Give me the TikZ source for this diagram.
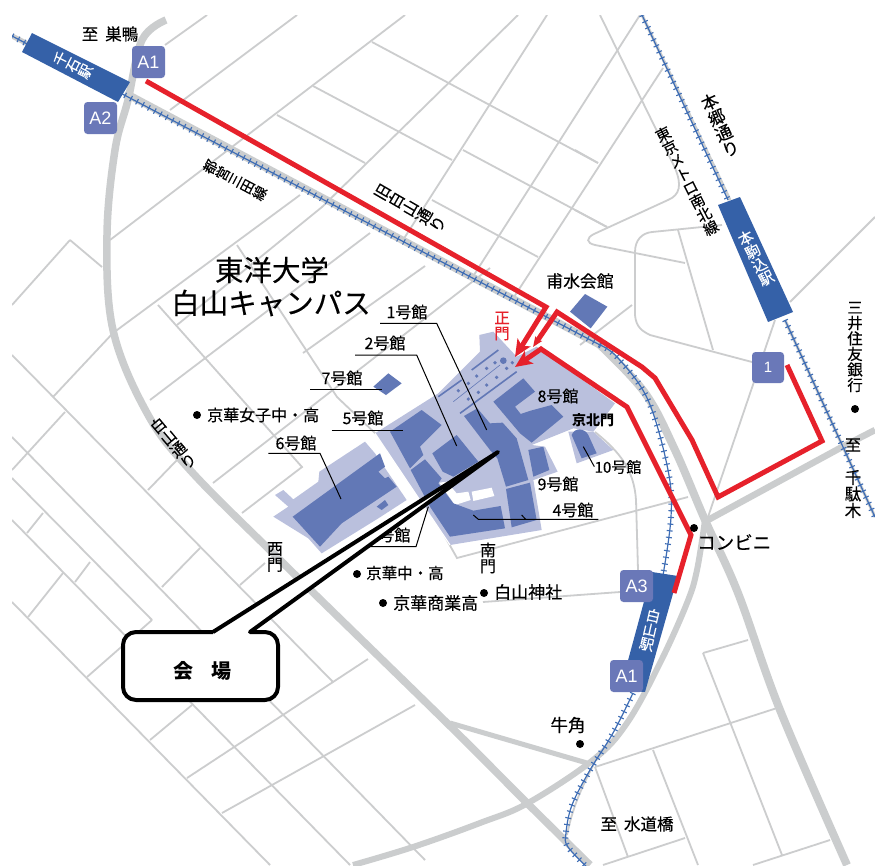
\documentclass[tikz,border=0pt]{standalone}
\usepackage{fontspec}
\setmainfont{Noto Sans CJK JP}
\newfontfamily\heavyf[FakeBold=0.25]{Noto Sans CJK JP}
\newfontfamily\latinf{Liberation Sans}
\usetikzlibrary{arrows.meta}
\definecolor{roadc}{HTML}{CBCDCE}
\definecolor{thinc}{HTML}{CCCDCE}
\definecolor{stationc}{HTML}{3561A8}
\definecolor{badgec}{HTML}{6A78B8}
\definecolor{bldgc}{HTML}{6278B6}
\definecolor{lotc}{HTML}{BAC0DD}
\definecolor{routec}{HTML}{E6212B}
\definecolor{railc}{HTML}{3E6DB5}
\tikzset{
  thinroad/.style={draw=thinc,line width=1.8pt},
  mainroad/.style={draw=roadc,line width=#1},
  railbase/.style={draw=railc,line width=1.2pt},
  railtick/.style={draw=railc,line width=6pt,dash pattern=on 1.1pt off 5.6pt},
  routeline/.style={draw=routec,line width=5pt,line join=miter},
  lot/.style={fill=lotc},
  bldg/.style={fill=bldgc},
  leader/.style={draw=black,line width=1pt},
  fs/.style={font=\heavyf\fontsize{#1}{#1}\selectfont,inner sep=0pt,align=center},
  badge/.style={fill=badgec,rounded corners=3.5pt},
  badgetext/.style={text=white,inner sep=0pt,font=\latinf\fontsize{18}{18}\selectfont},
  dotm/.style={fill=black},
}
\lineskiplimit=-20pt
\lineskip=0pt
\begin{document}
\begin{tikzpicture}[x=1pt,y=-1pt]
\useasboundingbox (0,0) rectangle (875,865);
\fill[white] (0,0) rectangle (875,865);
\begin{scope}
\clip (12,15) rectangle (875,865);
% thin roads: NE block
\draw[thinroad] (207,15)--(165,45);
\draw[thinroad] (297,15)--(170,110);
\draw[thinroad] (405,15)--(110,240);
\draw[thinroad] (518,15)--(322,207)--(177,325);
\draw[thinroad] (547,15)--(403,240);
\draw[thinroad] (640,15)--(472,278);
\draw[thinroad] (663,68)--(512,300);
\draw[thinroad] (600,15)--(675,168) .. controls (682,185) and (680,195) .. (668,200)--(594,234) .. controls (586,238) and (586,243) .. (595,245)--(685,263);
\draw[thinroad] (722,225)--(652,232) .. controls (642,233) and (635,240) .. (635,252)--(635,315) .. controls (636,327) and (642,331) .. (650,335)--(752,362);
\draw[thinroad] (678,230)--(713,350);
\draw[thinroad] (575,150)--(598,163);
\draw[thinroad] (575,210)--(607,227);
\draw[thinroad] (775,320)--(708,517);
\draw[thinroad] (875,217)--(790,302);
\draw[thinroad] (632,305)--(580,345);
\draw[thinroad] (372,42)--(598,163);
\draw[thinroad] (313,86)--(452,160);
\draw[thinroad] (277,115)--(365,163);
\draw[thinroad] (463,150)--(607,227);
\draw[thinroad] (432,200)--(538,257);
% below the rail
\draw[thinroad] (300,195)--(113,333)--(53,397);
\draw[thinroad] (150,400)--(370,233);
\draw[thinroad] (303,353)--(425,266);
\draw[thinroad] (490,268)--(213,483);
\draw[thinroad] (158,305)--(302,467)--(242,513);
\draw[thinroad] (237,245)--(337,397)--(377,435);
\draw[thinroad] (70,240)--(12,305);
\draw[thinroad] (70,240)--(102,267);
% campus surroundings
\draw[thinroad] (430,510)--(457,558)--(688,497);
\draw[thinroad] (595,432) .. controls (620,452) and (634,470) .. (636,500)--(638,570);
\draw[thinroad] (483,602)--(620,592);
% left block
\draw[thinroad] (12,355)--(333,682);
\draw[thinroad] (12,437)--(425,860);
\draw[thinroad] (12,478)--(152,620);
\draw[thinroad] (12,520)--(350,865);
\draw[thinroad] (12,602)--(270,865);
\draw[thinroad] (65,412)--(12,470);
\draw[thinroad] (43,513)--(27,533);
\draw[thinroad] (90,562)--(75,582);
\draw[thinroad] (63,573)--(28,617);
\draw[thinroad] (152,620)--(87,677);
\draw[thinroad] (200,548)--(162,587);
\draw[thinroad] (177,460)--(148,490);
\draw[thinroad] (265,563)--(240,585);
\draw[thinroad] (192,705)--(150,740);
\draw[thinroad] (368,659)--(187,778);
\draw[thinroad] (415,705)--(222,813);
% lower right block
\draw[thinroad] (703,653)--(748,640);
\draw[thinroad] (703,653)--(782,855);
\draw[thinroad] (595,767)--(777,708);
\draw[thinroad] (595,767)--(628,857);
\draw[thinroad] (653,750)--(698,865);
\draw[thinroad] (603,865)--(685,838);
\draw[thinroad] (753,865)--(830,840);
\draw[thinroad] (595,762) .. controls (580,790) and (572,810) .. (567,835);
% main roads
\draw[mainroad=7.5pt] plot[smooth,tension=.6] coordinates {(166,20) (142,40) (128,100) (115,150) (107,235) (113,330) (147,413) (190,470) (283,563) (447,723) (527,803) (590,865)};
\draw[mainroad=7.5pt] (125,93)--(600,345);
\draw[mainroad=8pt] plot[smooth,tension=.6] coordinates {(600,345) (645,393) (675,450) (705,520) (738,593) (780,710) (847,865)};
\draw[mainroad=6.5pt] (708,520)--(842,447)--(875,430);
\draw[mainroad=6pt] plot[smooth,tension=.6] coordinates {(705,520) (697,570) (687,603) (660,663) (627,723) (593,760) (528,803) (480,823) (413,847) (353,865)};
\draw[mainroad=5pt] (450,723)--(587,763);
\draw[mainroad=5pt] (12,36)--(32,46);
% rails
\draw[mainroad=3pt] (642,15)--(730,200);
\draw[mainroad=3pt] (785,320)--(875,517);
\foreach \st in {railbase,railtick}{
  \draw[\st] (12,36)--(600,345);
  \draw[\st] plot[smooth,tension=.6] coordinates {(600,345) (618,358) (648,400) (668,470) (671,517) (663,575)};
  \draw[\st] plot[smooth,tension=.6] coordinates {(633,693) (613,733) (590,770) (572,805) (566,833) (568,847) (590,870)};
  \draw[\st] (642,15)--(728,200);
  \draw[\st] (785,320)--(875,517);
}
\end{scope}
% campus
\begin{scope}[shift={(260,290)},scale=1/3]
\fill[lot] (345,430)--(535,310)--(660,185)--(658,135)--(700,125)--(770,200)--(830,170)--(1065,340)--(1000,425)--(940,415)--(815,465)--(855,470)--(893,545)--(820,570)--(845,720)--(570,765)--cycle;
\fill[lot] (45,615)--(70,600)--(100,628)--(175,575)--(178,545)--(315,455)--(345,490)--(440,630)--(355,685)--(185,790)--(145,745)--(40,680)--(85,650)--cycle;
\fill[lot] (925,425)--(1000,425)--(1060,480)--(950,520)--cycle;
\draw[white,line width=1.2pt] (345,430)--(570,765);
\fill[white] (538,578)--(560,575)--(590,610)--(625,605)--(632,630)--(585,645)--cycle;
\fill[white] (635,605)--(695,593)--(703,618)--(640,633)--cycle;
\fill[bldg] (390,425)--(485,360)--(545,405)--(480,470)--(490,495)--(450,535)--cycle;
\fill[bldg] (517,490)--(590,435)--(655,515)--(580,560)--(548,545)--cycle;
\fill[bldg] (452,540)--(495,508)--(545,565)--(535,580)--(580,640)--(640,662)--(722,648)--(735,715)--(570,740)--(510,650)--cycle;
\fill[bldg] (612,378)--(652,355)--(690,400)--(728,398)--(770,445)--(805,570)--(738,590)--(712,505)--(690,480)--cycle;
\fill[bldg] (738,597)--(810,578)--(830,690)--(755,712)--cycle;
\fill[bldg] (805,480)--(850,470)--(868,540)--(820,560)--cycle;
\fill[bldg] (700,335)--(790,265)--(825,305)--(765,350)--(782,372)--(812,362)--(875,345)--(910,380)--(815,458)--(780,430)--cycle;
\fill[bldg] (935,435) .. controls (945,410) and (975,415) .. (985,435)--(1010,490)--(965,505)--cycle;
\fill[bldg] (340,290)--(385,250)--(425,280)--(378,315)--cycle;
\fill[bldg] (930,65)--(975,12)--(1042,50)--(992,115)--cycle;
\fill[bldg] (98,680)--(360,490)--(375,530)--(355,545)--(375,565)--(385,560)--(410,590)--(245,700)--(180,770)--cycle;
\fill[bldg] (350,650)--(375,630)--(385,645)--(365,660)--cycle;
\draw[bldgc,line width=1.6pt] (535,320)--(605,270);
\draw[bldgc,line width=1.6pt] (635,240)--(715,180);
\draw[bldgc,line width=1.6pt] (600,370)--(770,245);
\draw[bldgc,line width=0.6pt] (580,335)--(720,225);
\fill[bldg] (730,212) circle[radius=10];
\foreach \p in {(595,302),(625,280),(650,258),(680,235),(705,218),(757,218),(625,327),(655,307),(680,285),(710,262),(740,235)}{
  \fill[bldg] \p circle[radius=5.5];
}
% leaders
\draw[leader] (360,100)--(530,100)--(680,420);
\draw[leader] (285,195)--(470,195)--(590,468);
\draw[leader] (150,298)--(365,298);
\draw[leader] (215,420)--(430,420);
\draw[leader] (25,490)--(180,490)--(243,627);
\draw[leader] (325,770)--(468,770)--(505,650);
\draw[leader] (970,470)--(1003,530);
\draw[leader] (640,675)--(655,688)--(1015,688);
\draw[leader] (785,675)--(797,688);
\end{scope}
% stations
\fill[stationc] (32,33)--(130,82)--(118,102)--(22,52)--cycle;
\fill[stationc] (718,205)--(740,197)--(793,312)--(768,322)--cycle;
\fill[stationc] (652,572)--(678,576)--(645,692)--(620,690)--cycle;
% routes
\draw[routeline,-{Stealth[length=17pt,width=15pt,inset=4pt]}] (146,81)--(546,307)--(515,357);
\draw[routeline,-{Stealth[length=10pt,width=8pt,inset=2pt]}] (787,365)--(822,441)--(718,497)--(692,440)--(655,378)--(642,367)--(557,312)--(533,347);
\draw[routeline,-{Stealth[length=17pt,width=15pt,inset=4pt]}] (674,593)--(691,535)--(627,407)--(541,349)--(515,367);
% badges
\fill[badge] (132,46) rectangle (165,78);
\fill[badge] (84,102) rectangle (117,134);
\fill[badge] (752,352) rectangle (784,383);
\fill[badge] (620,570) rectangle (653,602);
\fill[badge] (610,660) rectangle (643,692);
\node[badgetext] (ba1) at (148.5,62) {A1};
\node[badgetext] (ba2) at (100.5,118) {A2};
\node[badgetext,font=\latinf\fontsize{15}{15}\selectfont] (b1) at (768,367.5) {1};
\node[badgetext] (ba3) at (636.5,586) {A3};
\node[badgetext] (ba1s) at (626.5,676) {A1};
% station names
\node[fs=14,text=white,rotate=63] (t1) at (73,65) {千\\石\\駅};
\node[fs=15,text=white,rotate=27] (t2) at (756,258) {本\\駒\\込\\駅};
\node[fs=14.5,text=white,rotate=-13] (t3) at (650,630) {白\\山\\駅};
% map texts
\node[fs=16.5] (t4) at (110,34) {至\hspace{7pt}巣鴨};
\node[fs=14,rotate=62] (t5) at (235,180) {都\\営\\三\\田\\線};
\node[fs=16,rotate=60] (t6) at (410,208) {旧\\白\\山\\通\\り};
\node[fs=17,rotate=24] (t7) at (720,125) {本\\郷\\通\\り};
\node[fs=15,rotate=27] (t8) at (687,181) {東\\京\\メ\\ト\\ロ\\南\\北\\線};
\node[fs=15.5,rotate=40] (t9) at (173,443) {白\\山\\通\\り};
\node[fs=28.5] (t10) at (272,270) {東洋大学};
\node[fs=28.5] (t11) at (271,303) {白山キャンパス};
\node[fs=16.8] (t12) at (580,281) {甫水会館};
\node[fs=16] (t13) at (407,312) {1号館};
\node[fs=16] (t14) at (385,343) {2号館};
\node[fs=16] (t15) at (342,378) {7号館};
\node[fs=16] (t16) at (363,418) {5号館};
\node[fs=16] (t17) at (296,443) {6号館};
\node[fs=16] (t18) at (390,535) {3号館};
\node[fs=16] (t19) at (558,396) {8号館};
\node[fs=13,font=\bfseries\fontsize{14}{14}\selectfont] (t20) at (593,420) {京北門};
\node[fs=15] (t21) at (618,467) {10号館};
\node[fs=16] (t22) at (558,484) {9号館};
\node[fs=16] (t23) at (573,510) {4号館};
\node[fs=15.5,text=routec] (t24) at (502,326) {正\\門};
\node[fs=16] (t25) at (275,557) {西\\門};
\node[fs=16] (t26) at (488,558) {南\\門};
\node[fs=16,anchor=west] (t27) at (207,415) {京華女子中・高};
\node[fs=15.5,anchor=west] (t28) at (366,573) {京華中・高};
\node[fs=17,anchor=west] (t29) at (393,603) {京華商業高};
\node[fs=17,anchor=west] (t30) at (494,592) {白山神社};
\node[fs=18.5,anchor=west] (t31) at (697,542) {コンビニ};
\node[fs=17.5] (t32) at (568,725) {牛角};
\node[fs=16.5] (t33) at (637,824) {至\hspace{7pt}水道橋};
\node[fs=15.5] (t34) at (855,347) {三\\井\\住\\友\\銀\\行};
\node[fs=16] (t35) at (853,445) {至};
\node[fs=16.5] (t36) at (853,494) {千\\駄\\木};
% dots
\foreach \p in {(197,415),(357,574),(383,603),(484,593),(694,528),(580,744),(855,409)}{
  \fill[dotm] \p circle[radius=4];
}
% callout
\draw[black,fill=white,line width=4pt,line join=round] (213,632)--(498,452)--(250,632)[rounded corners=13pt]--(278,632)--(278,700)--(123,700)--(123,632)--(213,632);
\node[font=\bfseries\fontsize{20}{20}\selectfont,inner sep=0pt] (t37) at (202,671) {会\hspace{18pt}場};
\end{tikzpicture}
\end{document}
